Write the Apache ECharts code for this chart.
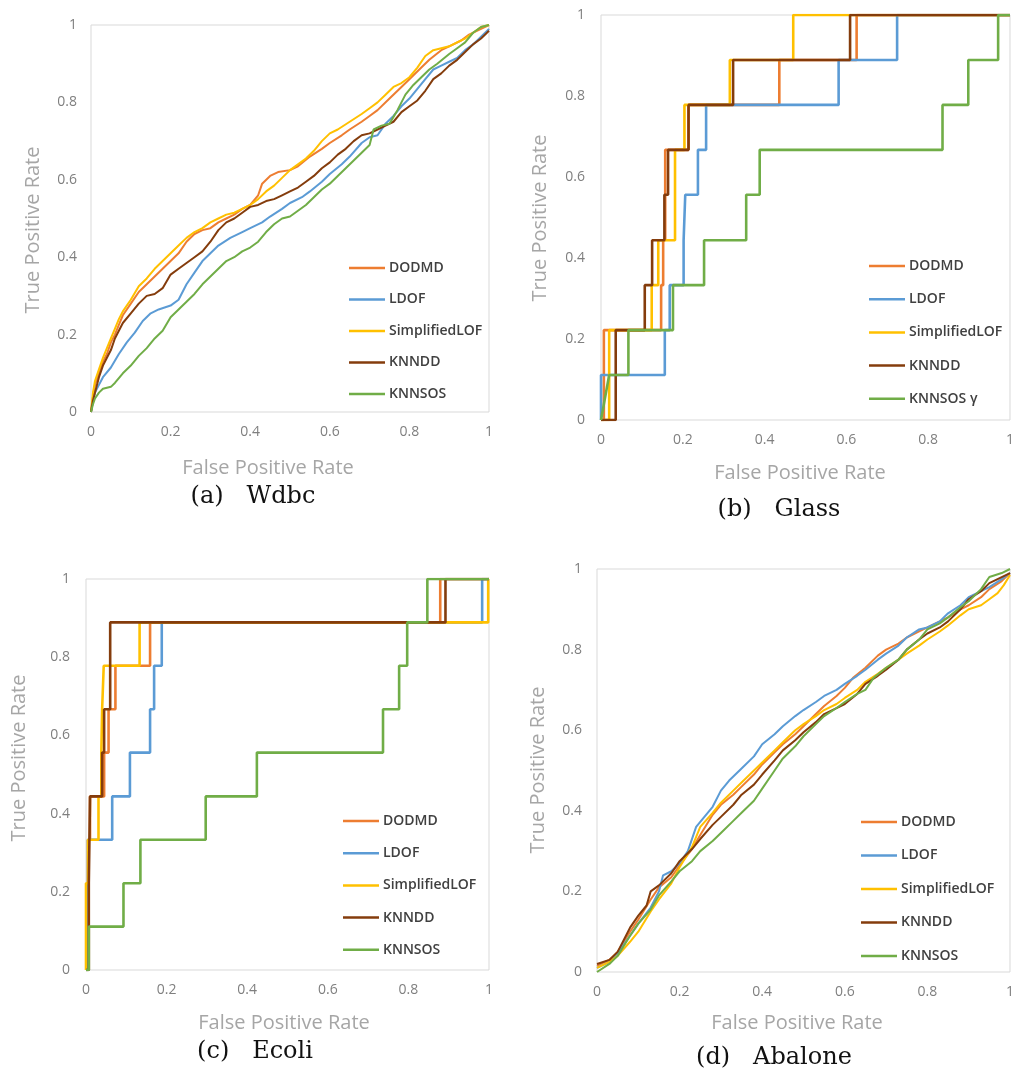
<!DOCTYPE html>
<html>
<head>
<meta charset="utf-8">
<script src="https://cdn.jsdelivr.net/npm/echarts@6/dist/echarts.min.js"></script>
<style>html,body{margin:0;padding:0;background:#fff}#c{width:1017px;height:1077px}</style>
</head>
<body>
<div id="c"></div>
<script>
// ---------------- data ----------------
const methods = ['DODMD', 'LDOF', 'SimplifiedLOF', 'KNNDD', 'KNNSOS'];
const glassLegendNames = ['DODMD', 'LDOF', 'SimplifiedLOF', 'KNNDD', 'KNNSOS γ'];
const tickValues = [0, 0.2, 0.4, 0.6, 0.8, 1];
const captions = ['(a)   Wdbc', '(b)   Glass', '(c)   Ecoli', '(d)   Abalone'];
const xTitle = 'False Positive Rate';
const yTitle = 'True Positive Rate';

// (a) Wdbc
const wdbcDODMD = [[0,0],[0.005,0.04],[0.01,0.07],[0.02,0.1],[0.03,0.13],[0.04,0.15],[0.05,0.18],[0.06,0.2],[0.07,0.225],[0.08,0.25],[0.1,0.28],[0.12,0.31],[0.14,0.33],[0.16,0.35],[0.18,0.37],[0.2,0.39],[0.22,0.41],[0.24,0.44],[0.26,0.46],[0.28,0.47],[0.3,0.475],[0.32,0.49],[0.34,0.5],[0.36,0.51],[0.38,0.525],[0.4,0.535],[0.42,0.56],[0.43,0.59],[0.45,0.61],[0.47,0.62],[0.5,0.625],[0.52,0.635],[0.55,0.66],[0.58,0.68],[0.6,0.695],[0.63,0.715],[0.65,0.73],[0.68,0.75],[0.7,0.765],[0.72,0.78],[0.75,0.81],[0.78,0.84],[0.8,0.86],[0.83,0.89],[0.85,0.91],[0.88,0.935],[0.9,0.945],[0.93,0.96],[0.95,0.975],[0.98,0.99],[1,1]];
const wdbcLDOF = [[0,0],[0.005,0.03],[0.01,0.05],[0.02,0.07],[0.03,0.09],[0.05,0.115],[0.07,0.15],[0.09,0.18],[0.11,0.205],[0.13,0.235],[0.15,0.255],[0.17,0.265],[0.2,0.275],[0.22,0.29],[0.24,0.33],[0.26,0.36],[0.28,0.39],[0.3,0.41],[0.32,0.43],[0.35,0.45],[0.38,0.465],[0.4,0.475],[0.43,0.49],[0.45,0.505],[0.48,0.525],[0.5,0.54],[0.53,0.555],[0.55,0.57],[0.58,0.595],[0.6,0.615],[0.63,0.64],[0.65,0.66],[0.68,0.695],[0.7,0.71],[0.72,0.715],[0.74,0.745],[0.76,0.765],[0.78,0.79],[0.8,0.81],[0.82,0.835],[0.84,0.86],[0.86,0.885],[0.88,0.895],[0.9,0.905],[0.92,0.915],[0.94,0.935],[0.96,0.95],[0.98,0.97],[1,0.99]];
const wdbcSLOF = [[0,0],[0.005,0.05],[0.01,0.08],[0.02,0.11],[0.03,0.14],[0.04,0.165],[0.05,0.19],[0.06,0.215],[0.07,0.24],[0.08,0.26],[0.1,0.29],[0.12,0.325],[0.14,0.345],[0.16,0.37],[0.18,0.39],[0.2,0.41],[0.22,0.43],[0.24,0.45],[0.26,0.465],[0.28,0.475],[0.3,0.49],[0.32,0.5],[0.34,0.51],[0.36,0.515],[0.38,0.525],[0.4,0.535],[0.42,0.55],[0.44,0.57],[0.46,0.585],[0.48,0.605],[0.5,0.625],[0.52,0.64],[0.54,0.655],[0.56,0.675],[0.58,0.7],[0.6,0.72],[0.62,0.73],[0.65,0.75],[0.68,0.77],[0.7,0.785],[0.72,0.8],[0.74,0.82],[0.76,0.84],[0.78,0.85],[0.8,0.865],[0.82,0.89],[0.84,0.92],[0.86,0.935],[0.88,0.94],[0.9,0.945],[0.92,0.955],[0.94,0.965],[0.96,0.98],[0.98,0.995],[1,1]];
const wdbcKNNDD = [[0,0],[0.005,0.03],[0.01,0.05],[0.02,0.09],[0.03,0.12],[0.04,0.14],[0.05,0.16],[0.06,0.19],[0.07,0.21],[0.08,0.23],[0.1,0.255],[0.12,0.28],[0.14,0.3],[0.16,0.305],[0.18,0.32],[0.2,0.355],[0.22,0.37],[0.24,0.385],[0.26,0.4],[0.28,0.415],[0.3,0.44],[0.32,0.47],[0.34,0.49],[0.36,0.5],[0.38,0.515],[0.4,0.53],[0.42,0.535],[0.44,0.545],[0.46,0.55],[0.48,0.56],[0.5,0.57],[0.52,0.58],[0.54,0.595],[0.56,0.61],[0.58,0.63],[0.6,0.645],[0.62,0.665],[0.64,0.68],[0.66,0.7],[0.68,0.715],[0.7,0.72],[0.72,0.73],[0.74,0.74],[0.76,0.75],[0.78,0.775],[0.8,0.79],[0.82,0.805],[0.84,0.83],[0.86,0.86],[0.88,0.875],[0.9,0.895],[0.92,0.91],[0.94,0.93],[0.96,0.95],[0.98,0.965],[1,0.985]];
const wdbcKNNSOS = [[0,0],[0.005,0.02],[0.01,0.035],[0.02,0.05],[0.03,0.06],[0.05,0.065],[0.06,0.075],[0.08,0.1],[0.1,0.12],[0.12,0.145],[0.14,0.165],[0.16,0.19],[0.18,0.21],[0.2,0.245],[0.22,0.265],[0.24,0.285],[0.26,0.305],[0.28,0.33],[0.3,0.35],[0.32,0.37],[0.34,0.39],[0.36,0.4],[0.38,0.415],[0.4,0.425],[0.42,0.44],[0.44,0.465],[0.46,0.485],[0.48,0.5],[0.5,0.505],[0.52,0.52],[0.54,0.535],[0.56,0.555],[0.58,0.575],[0.6,0.59],[0.62,0.61],[0.64,0.63],[0.66,0.65],[0.68,0.67],[0.7,0.69],[0.71,0.73],[0.73,0.74],[0.75,0.745],[0.77,0.78],[0.79,0.82],[0.81,0.845],[0.83,0.865],[0.85,0.885],[0.87,0.9],[0.9,0.925],[0.92,0.94],[0.94,0.955],[0.96,0.98],[0.98,0.995],[1,1]];

// (b) Glass (step ROC curves, TPR in ninths)
const glassDODMD = [[0,0],[0.007,0],[0.007,0.222],[0.147,0.222],[0.147,0.333],[0.152,0.333],[0.152,0.444],[0.157,0.444],[0.157,0.667],[0.214,0.667],[0.214,0.778],[0.436,0.778],[0.436,0.889],[0.625,0.889],[0.625,1],[1,1]];
const glassLDOF = [[0,0],[0,0.111],[0.156,0.111],[0.156,0.222],[0.168,0.222],[0.168,0.333],[0.202,0.333],[0.202,0.444],[0.206,0.444],[0.206,0.556],[0.237,0.556],[0.237,0.667],[0.257,0.667],[0.257,0.778],[0.581,0.778],[0.581,0.889],[0.724,0.889],[0.724,1],[1,1]];
const glassSLOF = [[0,0],[0.02,0],[0.02,0.222],[0.124,0.222],[0.124,0.333],[0.14,0.333],[0.14,0.444],[0.181,0.444],[0.181,0.667],[0.204,0.667],[0.204,0.778],[0.315,0.778],[0.315,0.889],[0.47,0.889],[0.47,1],[1,1]];
const glassKNNDD = [[0,0],[0.036,0],[0.036,0.222],[0.107,0.222],[0.107,0.333],[0.125,0.333],[0.125,0.444],[0.155,0.444],[0.155,0.556],[0.164,0.556],[0.164,0.667],[0.214,0.667],[0.214,0.778],[0.323,0.778],[0.323,0.889],[0.609,0.889],[0.609,1],[1,1]];
const glassKNNSOS = [[0,0],[0.02,0.111],[0.067,0.111],[0.067,0.222],[0.176,0.222],[0.176,0.333],[0.252,0.333],[0.252,0.444],[0.355,0.444],[0.355,0.556],[0.388,0.556],[0.388,0.667],[0.835,0.667],[0.835,0.778],[0.898,0.778],[0.898,0.889],[0.971,0.889],[0.971,1],[1,1]];

// (c) Ecoli
const ecoliDODMD = [[0,0],[0.005,0],[0.005,0.333],[0.01,0.333],[0.01,0.444],[0.045,0.444],[0.045,0.556],[0.056,0.556],[0.056,0.667],[0.073,0.667],[0.073,0.778],[0.159,0.778],[0.159,0.889],[0.879,0.889],[0.879,1],[1,1]];
const ecoliLDOF = [[0,0],[0.005,0],[0.005,0.333],[0.065,0.333],[0.065,0.444],[0.109,0.444],[0.109,0.556],[0.159,0.556],[0.159,0.667],[0.169,0.667],[0.169,0.778],[0.188,0.778],[0.188,0.889],[0.983,0.889],[0.983,1],[1,1]];
const ecoliSLOF = [[0,0],[0,0.222],[0.005,0.222],[0.005,0.333],[0.031,0.333],[0.031,0.444],[0.038,0.444],[0.038,0.556],[0.04,0.556],[0.04,0.667],[0.044,0.667],[0.044,0.778],[0.133,0.778],[0.133,0.889],[0.998,0.889],[0.998,1],[1,1]];
const ecoliKNNDD = [[0,0],[0.007,0],[0.007,0.222],[0.01,0.222],[0.01,0.444],[0.04,0.444],[0.04,0.556],[0.045,0.556],[0.045,0.667],[0.06,0.667],[0.06,0.889],[0.892,0.889],[0.892,1],[1,1]];
const ecoliKNNSOS = [[0,0],[0.007,0],[0.007,0.111],[0.093,0.111],[0.093,0.222],[0.135,0.222],[0.135,0.333],[0.297,0.333],[0.297,0.444],[0.424,0.444],[0.424,0.556],[0.737,0.556],[0.737,0.667],[0.777,0.667],[0.777,0.778],[0.797,0.778],[0.797,0.889],[0.847,0.889],[0.847,1],[1,1]];

// (d) Abalone
const abaDODMD = [[0,0.015],[0.03,0.03],[0.05,0.05],[0.08,0.1],[0.1,0.13],[0.13,0.18],[0.15,0.21],[0.18,0.235],[0.2,0.265],[0.23,0.305],[0.25,0.34],[0.28,0.39],[0.3,0.415],[0.33,0.44],[0.35,0.46],[0.38,0.49],[0.4,0.515],[0.43,0.545],[0.45,0.565],[0.48,0.59],[0.5,0.61],[0.53,0.64],[0.55,0.66],[0.58,0.685],[0.6,0.705],[0.62,0.73],[0.65,0.755],[0.68,0.785],[0.7,0.8],[0.73,0.815],[0.75,0.83],[0.78,0.845],[0.8,0.855],[0.83,0.87],[0.85,0.88],[0.88,0.9],[0.9,0.91],[0.93,0.93],[0.95,0.95],[0.98,0.97],[1,0.99]];
const abaLDOF = [[0,0.01],[0.03,0.025],[0.05,0.047],[0.08,0.09],[0.1,0.12],[0.13,0.16],[0.15,0.2],[0.16,0.24],[0.18,0.25],[0.2,0.27],[0.22,0.3],[0.24,0.36],[0.26,0.385],[0.28,0.41],[0.3,0.45],[0.32,0.475],[0.35,0.505],[0.38,0.535],[0.4,0.565],[0.43,0.59],[0.45,0.61],[0.48,0.635],[0.5,0.65],[0.53,0.67],[0.55,0.685],[0.58,0.7],[0.6,0.715],[0.63,0.735],[0.65,0.75],[0.68,0.775],[0.7,0.79],[0.73,0.81],[0.75,0.83],[0.78,0.85],[0.8,0.855],[0.83,0.87],[0.85,0.89],[0.88,0.91],[0.9,0.93],[0.93,0.945],[0.95,0.955],[0.98,0.975],[1,0.99]];
const abaSLOF = [[0,0.01],[0.03,0.025],[0.05,0.04],[0.08,0.075],[0.1,0.1],[0.13,0.15],[0.15,0.18],[0.18,0.22],[0.2,0.26],[0.23,0.31],[0.25,0.36],[0.28,0.395],[0.3,0.42],[0.33,0.45],[0.35,0.47],[0.38,0.5],[0.4,0.52],[0.43,0.55],[0.45,0.57],[0.48,0.6],[0.5,0.615],[0.53,0.635],[0.55,0.65],[0.58,0.665],[0.6,0.68],[0.63,0.7],[0.65,0.72],[0.68,0.74],[0.7,0.755],[0.73,0.775],[0.75,0.79],[0.78,0.81],[0.8,0.825],[0.83,0.845],[0.85,0.86],[0.88,0.885],[0.9,0.9],[0.93,0.91],[0.95,0.925],[0.97,0.94],[0.985,0.96],[1,0.985]];
const abaKNNDD = [[0,0.02],[0.03,0.03],[0.05,0.05],[0.08,0.11],[0.1,0.14],[0.12,0.165],[0.13,0.2],[0.15,0.215],[0.18,0.245],[0.2,0.275],[0.23,0.305],[0.25,0.33],[0.28,0.365],[0.3,0.385],[0.33,0.415],[0.35,0.44],[0.38,0.465],[0.4,0.49],[0.43,0.525],[0.45,0.55],[0.48,0.575],[0.5,0.595],[0.53,0.62],[0.55,0.64],[0.58,0.655],[0.6,0.665],[0.63,0.69],[0.65,0.715],[0.68,0.735],[0.7,0.75],[0.73,0.775],[0.75,0.8],[0.78,0.825],[0.8,0.84],[0.83,0.855],[0.85,0.87],[0.88,0.9],[0.9,0.925],[0.93,0.945],[0.95,0.965],[0.97,0.975],[1,0.99]];
const abaKNNSOS = [[0,0],[0.03,0.02],[0.05,0.04],[0.08,0.09],[0.1,0.12],[0.13,0.155],[0.15,0.19],[0.18,0.225],[0.2,0.25],[0.23,0.275],[0.25,0.3],[0.28,0.325],[0.3,0.345],[0.33,0.375],[0.35,0.395],[0.38,0.425],[0.4,0.455],[0.43,0.5],[0.45,0.53],[0.48,0.56],[0.5,0.585],[0.53,0.615],[0.55,0.635],[0.58,0.655],[0.6,0.67],[0.63,0.69],[0.65,0.7],[0.67,0.73],[0.7,0.755],[0.73,0.775],[0.75,0.8],[0.78,0.825],[0.8,0.85],[0.83,0.865],[0.85,0.88],[0.88,0.905],[0.9,0.92],[0.93,0.95],[0.95,0.98],[0.98,0.99],[1,1]];

// ---------------- chart ----------------
const colors = ['#ED7D31', '#5B9BD5', '#FFC000', '#843C0C', '#70AD47'];
const panelData = [
  [wdbcDODMD, wdbcLDOF, wdbcSLOF, wdbcKNNDD, wdbcKNNSOS],
  [glassDODMD, glassLDOF, glassSLOF, glassKNNDD, glassKNNSOS],
  [ecoliDODMD, ecoliLDOF, ecoliSLOF, ecoliKNNDD, ecoliKNNSOS],
  [abaDODMD, abaLDOF, abaSLOF, abaKNNDD, abaKNNSOS]
];
const panelNames = [methods, glassLegendNames, methods, methods];
const grids = [
  {left: 91, top: 25, width: 398, height: 387},
  {left: 601, top: 15, width: 417, height: 405},
  {left: 86, top: 579, width: 403, height: 391},
  {left: 597, top: 569, width: 415, height: 403}
];
const lineWidths = [2, 2.6, 2.6, 2];
const legendPos = [
  {left: 349, top: 261, itemGap: 17.5},
  {left: 869, top: 259, itemGap: 19.2},
  {left: 343, top: 814, itemGap: 18.2},
  {left: 861, top: 815, itemGap: 19.5}
];
const yLabelMargin = [14, 16, 16, 15];
const xTitlePos = [[268, 468], [800, 473], [284, 1023], [797, 1023]];
const yTitlePos = [[33, 230], [540, 218], [19, 758], [538, 770]];
const captionPos = [[253, 497], [779, 510], [255, 1052], [774, 1058]];

const labelStyle = {color: '#7f7f7f', fontSize: 14, fontFamily: 'Open Sans'};
const xAxes = [], yAxes = [], series = [], legends = [], graphics = [];
grids.forEach((g, p) => {
  g.show = true; g.borderColor = '#d9d9d9'; g.borderWidth = 1; g.containLabel = false;
  xAxes.push({gridIndex: p, type: 'value', min: 0, max: 1, interval: 0.2,
    axisLine: {show: false}, axisTick: {show: false}, splitLine: {show: false},
    axisLabel: Object.assign({margin: 13}, labelStyle)});
  yAxes.push({gridIndex: p, type: 'value', min: 0, max: 1, interval: 0.2,
    axisLine: {show: false}, axisTick: {show: false}, splitLine: {show: false},
    axisLabel: Object.assign({margin: yLabelMargin[p]}, labelStyle)});
  panelData[p].forEach((d, i) => {
    series.push({type: 'line', name: panelNames[p][i], xAxisIndex: p, yAxisIndex: p,
      data: d, showSymbol: false, symbol: 'none', silent: true, clip: true,
      lineStyle: {color: colors[i], width: lineWidths[p]}, itemStyle: {color: colors[i]},
      z: 2 + i});
  });
  legends.push({orient: 'vertical', left: legendPos[p].left, top: legendPos[p].top,
    itemGap: legendPos[p].itemGap, itemWidth: 36, itemHeight: 2.5, icon: 'rect',
    selectedMode: false, padding: 0, data: panelNames[p].slice(),
    textStyle: {color: '#404040', fontSize: 14, fontWeight: 600, fontFamily: 'Open Sans', lineHeight: 14, padding: [0, 0, 0, -1]}});
  graphics.push({type: 'text', x: xTitlePos[p][0], y: xTitlePos[p][1],
    style: {text: xTitle, fill: '#a6a6a6', font: '20px "Open Sans"', align: 'center', verticalAlign: 'middle', textAlign: 'center', textVerticalAlign: 'middle'}});
  graphics.push({type: 'text', x: yTitlePos[p][0], y: yTitlePos[p][1], rotation: Math.PI / 2,
    style: {text: yTitle, fill: '#a6a6a6', font: '20px "Open Sans"', align: 'center', verticalAlign: 'middle', textAlign: 'center', textVerticalAlign: 'middle'}});
  graphics.push({type: 'text', x: captionPos[p][0], y: captionPos[p][1],
    style: {text: captions[p], fill: '#111', font: '24px "DejaVu Serif"', align: 'center', verticalAlign: 'middle', textAlign: 'center', textVerticalAlign: 'middle'}});
});

const chart = echarts.init(document.getElementById('c'), null, {renderer: 'canvas'});
chart.setOption({
  animation: false,
  backgroundColor: '#ffffff',
  grid: grids, xAxis: xAxes, yAxis: yAxes, legend: legends, series: series, graphic: graphics
});
</script>
</body>
</html>
